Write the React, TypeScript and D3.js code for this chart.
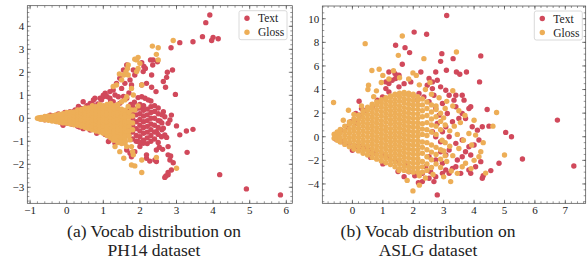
import React from "react";
import * as d3 from "d3";

// ---------- DATA ----------
// Panel (a) PH14: Text embeddings (scattered points)
const textA: [number, number][] = [
  [3.91,4.49],[3.8,4.16],[3.71,3.55],[4.0,3.52],[3.96,3.38],[4.14,3.46],[3.45,3.33],[3.09,3.29],[2.85,3.07],
  [2.89,2.1],[2.75,2.0],[2.73,1.78],[2.64,1.6],[2.7,1.35],[2.97,1.04],
  [2.36,2.54],[2.29,2.54],[2.35,2.32],[2.48,2.46],[2.32,1.88],[2.11,2.25],[2.09,2.03],[2.05,2.42],[2.15,2.17],
  [2.44,1.16],[2.32,1.35],[2.18,1.52],[2.05,1.45],[2.05,0.94],[2.14,0.87],[2.23,0.8],
  [2.64,0.29],[2.68,0.07],[2.82,-0.07],[2.86,0.14],[2.77,-0.22],[3.0,-0.33],[3.09,-0.72],[3.27,-0.55],[3.45,-0.48],[3.29,-1.48],
  [2.64,-0.43],[2.68,-0.72],[2.73,-0.83],[2.59,-0.8],[2.77,-1.23],[2.77,-1.59],[2.84,-1.64],[2.82,-1.81],[2.91,-1.93],
  [2.86,-2.25],[2.77,-2.36],[2.71,-2.51],[2.77,-2.46],[2.68,-2.57],
  [2.45,-1.88],[2.41,-1.81],[2.27,-1.86],[2.18,-1.74],[2.45,-1.38],[2.53,-1.26],[2.62,-1.35],
  [4.18,-2.45],[4.91,-3.07],[5.84,-3.33],[2.55,-0.12],[2.45,-0.58],
  [1.64,2.32],[1.55,2.1],[1.45,1.74],[1.36,1.52],[1.27,1.23],[1.18,1.16],[1.05,1.09],[1.0,0.94],[0.91,0.87],[0.77,0.87],
  [0.73,0.8],[0.64,0.65],[0.45,0.72],[0.39,0.43],[0.32,0.51],[0.23,0.36],[0.09,0.29],
  [1.73,1.67],[1.77,1.45],[1.86,1.88],[1.91,2.07],[1.82,2.1],[1.59,1.52],[1.5,1.3],[1.32,1.01],[1.41,0.94],[1.64,0.87],
  [1.45,0.65],[1.18,0.87],[1.27,0.72],[1.0,1.0],[0.95,0.8],[1.1,0.95],[1.2,0.75],[1.55,0.95],[1.7,1.1],[1.85,0.7],
  [1.95,0.9],[1.75,0.6],[0.55,0.55],[0.7,0.6],[0.85,0.62],
  [1.0,-0.43],[0.91,-0.36],[0.82,-0.65],[0.73,-0.43],[0.64,-0.51],[0.55,-0.36],[1.14,-1.01],[1.18,-0.94],[1.32,-1.09],
  [1.64,-1.38],[1.73,-1.52],[1.77,-1.67],[1.86,-1.45],[2.0,-1.23],[2.09,-1.09],[1.95,-1.01],[2.18,-1.59],
  [0.45,-0.45],[0.3,-0.35],[1.05,-0.7],[1.25,-0.8],
  [-0.45,0.14],[-0.36,0.1],[-0.27,-0.14],[-0.14,-0.19],[0,-0.22],[0.14,-0.25],[0.27,-0.14],[0.41,-0.29],[0.18,0.22],
  [-0.05,0.25],[-0.23,0.19],[-0.55,0.07],[-0.73,-0.01],[-0.6,-0.06],[-0.1,-0.3],[0.2,0.3],[0.35,-0.38],
];
// Panel (a) Text: dense cluster, one column per x value
const textACluster: [number, number[]][] = [
  [1.7,[-0.7,-0.35,0.1,0.4]],
  [1.8,[-0.9,-0.6,-0.3,0,0.3,0.5]],
  [1.9,[-1.0,-0.75,-0.45,-0.15,0.15,0.4]],
  [2.0,[-1.05,-0.8,-0.55,-0.3,-0.05,0.2,0.45,0.6]],
  [2.1,[-0.95,-0.65,-0.4,-0.15,0.1,0.35,0.55]],
  [2.2,[-1.1,-0.85,-0.6,-0.35,-0.1,0.15,0.4]],
  [2.3,[-1.0,-0.75,-0.5,-0.25,0,0.25,0.5,0.75]],
  [2.4,[-0.9,-0.6,-0.3,0,0.3,0.55]],
  [2.5,[-1.05,-0.7,-0.4,-0.1,0.2,0.45]],
  [2.6,[-0.5,-0.2,0.15]],
];
// Panel (a) Gloss
const glossA: [number, number][] = [
  [2.34,3.14],[2.5,3.07],[2.91,3.38],[2.45,2.78],[2.5,2.54],
  [1.95,2.65],[1.91,2.54],[1.86,2.57],[2.0,2.39],[1.95,2.17],[1.91,2.03],[1.68,2.32],[1.66,2.17],[1.62,2.03],[1.56,1.88],
  [1.68,1.88],[1.44,1.93],[1.5,1.67],[1.36,1.45],[1.27,1.38],[2.05,1.45],[1.77,1.3],[1.82,1.01],[1.64,0.94],[1.59,0.8],
  [1.5,0.72],[1.68,0.51],[1.77,0.36],[1.86,0.36],[1.95,0.54],
  [1.64,-0.72],[1.73,-0.94],[1.59,-1.09],[1.64,-1.23],[1.77,-1.23],[1.8,-1.45],[1.82,-1.59],[1.77,-2.03],[1.86,-2.07],
  [2.05,-1.81],[2.05,-2.36],[2.45,-1.7],[3.0,-2.17],[1.56,-1.74],[1.45,-1.45],[1.32,-1.23],[1.41,-1.01],[1.27,-0.94],
];
const glossACore: [number, number[]][] = [
  [-0.8,[0]],
  [-0.75,[-0.02,0.03]],
  [-0.7,[-0.04,0.04]],
  [-0.6,[-0.06,0.02,0.08]],
  [-0.5,[-0.09,0,0.1]],
  [-0.4,[-0.12,-0.02,0.1]],
  [-0.3,[-0.14,-0.03,0.08,0.15]],
  [-0.2,[-0.17,-0.05,0.07,0.18]],
  [-0.1,[-0.2,-0.07,0.06,0.2]],
  [0.0,[-0.22,-0.1,0.02,0.14,0.25]],
  [0.1,[-0.25,-0.12,0,0.12,0.26]],
  [0.2,[-0.28,-0.14,0,0.13,0.28]],
  [0.3,[-0.3,-0.16,-0.02,0.12,0.27,0.36]],
  [0.4,[-0.35,-0.2,-0.05,0.1,0.25,0.38]],
  [0.5,[-0.4,-0.25,-0.1,0.05,0.2,0.35,0.45]],
  [0.6,[-0.45,-0.3,-0.15,0,0.15,0.3,0.45]],
  [0.7,[-0.5,-0.35,-0.2,-0.05,0.1,0.25,0.4,0.55]],
  [0.8,[-0.55,-0.4,-0.25,-0.1,0.05,0.2,0.35,0.5]],
  [0.9,[-0.6,-0.45,-0.3,-0.15,0,0.15,0.3,0.45,0.6]],
  [1.0,[-0.65,-0.5,-0.35,-0.2,-0.05,0.1,0.25,0.4,0.55]],
  [1.1,[-0.75,-0.6,-0.45,-0.3,-0.15,0,0.15,0.3,0.45,0.6]],
  [1.2,[-0.85,-0.7,-0.55,-0.4,-0.25,-0.1,0.05,0.2,0.35,0.5,0.65]],
  [1.3,[-0.95,-0.8,-0.65,-0.5,-0.35,-0.2,-0.05,0.1,0.25,0.4,0.55]],
  [1.4,[-1.05,-0.9,-0.75,-0.6,-0.45,-0.3,-0.15,0,0.15,0.3,0.45,0.6]],
  [1.5,[-1.1,-0.95,-0.8,-0.65,-0.5,-0.35,-0.2,-0.05,0.1,0.25,0.4]],
  [1.6,[-1.0,-0.85,-0.7,-0.55,-0.4,-0.25,-0.1,0.05,0.2,0.35]],
  [1.7,[-0.75,-0.55,-0.35,-0.15,0.05,0.25]],
  [1.8,[-0.5,-0.2,0.1]],
];

// Panel (b) ASLG: Text
const textB: [number, number][] = [
  [3.1,10.28],[2.03,8.87],[2.44,8.68],[1.42,7.75],[1.73,7.55],[1.88,7.13],[2.94,7.04],[2.9,6.39],[3.31,6.62],[4.22,6.85],
  [1.64,6.14],[3.09,5.63],[2.74,5.49],[3.42,5.49],[3.75,5.49],[3.53,5.3],[4.18,4.65],[4.43,2.31],[6.74,1.41],[5.04,0.37],
  [5.23,0],[5.59,-1.89],[7.28,-2.48],[4.82,-2.25],[4.55,-2.87],[4.3,-3.3],[4.27,-3.52],[2.79,-4.93],[2.17,-3.89],
  [0.22,3.01],[0.11,1.97],[-0.05,1.27],[0.27,-0.85],
  [1.2,5.49],[1.4,5.35],[1.31,4.79],[1.1,4.08],[1.2,3.8],[1.53,4.23],[1.7,4.5],[1.92,4.65],[2.25,5.49],[2.52,4.93],
  [2.63,4.65],[2.79,4.79],[2.46,4.37],[2.63,4.08],[2.9,4.23],[3.07,3.94],[3.18,3.52],[3.34,3.1],[3.4,3.52],[3.61,3.52],
  [3.67,3.1],[3.83,2.39],[3.89,2.54],[3.61,1.97],[3.5,1.55],[3.72,1.55],[3.94,0.85],[4.11,0.56],[4.27,0.85],[4.49,0.9],
  [4.16,-0.28],[4.0,-0.7],[3.83,-0.85],[3.61,-0.28],[3.4,-0.56],[3.18,0],[2.96,0.42],[3.07,0.85],[3.29,1.27],[2.85,1.83],
  [2.74,2.39],[2.96,2.82],[2.52,2.96],[2.35,3.38],[2.19,3.66],[2.14,3.1],[2.68,3.52],[3.4,2.54],[3.12,1.97],[2.79,1.13],
  [2.63,0.42],[2.74,0],[2.9,-0.42],
  [2.52,-1.69],[2.74,-1.97],[2.96,-2.25],[3.07,-2.82],[3.18,-3.1],[3.29,-2.68],[3.45,-1.97],[3.61,-1.69],[3.72,-1.27],
  [3.89,-1.55],[3.83,-2.82],[3.89,-3.1],[4.05,-2.54],[4.22,-2.11],[2.96,-3.1],[2.74,-3.38],[2.52,-3.52],[2.3,-3.1],
  [2.08,-3.1],[1.86,-2.96],[1.7,-3.38],[2.41,-2.54],[2.57,-2.96],[2.3,-3.8],[2.68,-3.8],[1.75,-2.25],[1.42,-2.11],
  [1.2,-1.69],[0.99,-1.55],[0.77,-1.41],[0.55,-1.13],[0.38,-0.99],[0.16,-0.85],[-0.11,-0.56],[-0.33,-0.42],[3.4,-2.54],
  [3.56,-3.1],[3.18,-1.13],[3.07,-1.55],[2.9,-1.27],
  [0.22,1.83],[0.44,2.25],[0.66,2.54],[0.82,3.1],[0.99,3.38],[1.1,4.65],[1.2,4.51],[1.42,4.93],[1.53,5.21],[0.11,1.13],
  [-0.16,0.85],[-0.38,0.56],[-0.55,-0.2],[0.0,-1.15],[0.6,-1.75],[1.0,-2.3],[1.5,-2.95],[2.05,-3.3],[0.3,2.4],
];
// Panel (b) Gloss
const glossB: [number, number][] = [
  [1.64,8.54],[0.42,7.89],[1.51,6.9],[3.42,7.18],[2.35,6.62],[0.64,5.61],[0.88,5.72],[1.99,5.41],[-0.62,2.9],[-0.13,2.25],
  [0.53,4.37],[0.51,4.0],[0.79,3.89],[4.74,2.06],[4.62,0.9],[5.0,-1.55],[1.99,-4.59],[1.53,-2.87],[3.23,-3.8],[4.38,-3.08],
  [3.83,0.28],[3.92,-0.7],[4.05,0.14],[4.22,-1.27],[4.16,-1.69],[3.72,-2.25],[3.61,-2.54],[3.45,-3.1],
  [1.0,5.2],[1.2,4.9],[0.95,4.6],[1.35,5.6],[1.85,4.9],[2.2,4.4],[2.4,4.0],[2.6,3.6],[2.85,3.3],[3.1,3.0],[3.3,2.6],
  [3.5,2.2],[3.7,1.8],[3.55,1.2],[3.35,0.9],[3.2,0.5],[3.45,0.2],[3.65,-0.3],[3.5,-1.0],[3.3,-1.6],[3.1,-2.1],[2.9,-2.6],
  [2.65,-3.2],[2.4,-3.5],[2.2,-3.3],[3.0,-3.4],[3.25,-2.9],[3.0,-1.2],[3.2,-0.8],[2.95,-0.3],[3.0,1.6],[2.75,2.6],
  [3.3,3.9],[2.55,4.6],[2.1,5.2],[1.55,5.0],[0.7,3.4],[0.3,2.6],[0.05,1.9],[-0.3,1.4],[4.0,1.4],[4.3,-0.5],[4.0,-2.0],
  [3.9,-2.7],[2.2,-4.1],[1.8,-3.7],
];
const glossBCore: [number, number[]][] = [
  [-0.6,[-0.12,0.22]],
  [-0.5,[-0.3,0.05,0.4]],
  [-0.4,[-0.45,-0.08,0.3,0.62]],
  [-0.25,[-0.65,-0.27,0.11,0.49,0.9]],
  [-0.1,[-0.85,-0.47,-0.09,0.29,0.67,1.05,1.25]],
  [0.05,[-1.05,-0.67,-0.29,0.09,0.47,0.85,1.23,1.52]],
  [0.2,[-1.2,-0.82,-0.44,-0.06,0.32,0.7,1.08,1.46,1.82]],
  [0.35,[-1.4,-1.02,-0.64,-0.26,0.12,0.5,0.88,1.26,1.64,2.02,2.2]],
  [0.5,[-1.55,-1.17,-0.79,-0.41,-0.03,0.35,0.73,1.11,1.49,1.87,2.25,2.5]],
  [0.65,[-1.75,-1.37,-0.99,-0.61,-0.23,0.15,0.53,0.91,1.29,1.67,2.05,2.43,2.75]],
  [0.8,[-1.9,-1.52,-1.14,-0.76,-0.38,0,0.38,0.76,1.14,1.52,1.9,2.28,2.66,2.95]],
  [0.95,[-2.05,-1.67,-1.29,-0.91,-0.53,-0.15,0.23,0.61,0.99,1.37,1.75,2.13,2.51,2.89,3.15]],
  [1.1,[-2.2,-1.82,-1.44,-1.06,-0.68,-0.3,0.08,0.46,0.84,1.22,1.6,1.98,2.36,2.74,3.12,3.3]],
  [1.25,[-2.35,-1.97,-1.59,-1.21,-0.83,-0.45,-0.07,0.31,0.69,1.07,1.45,1.83,2.21,2.59,2.97,3.35,3.45]],
  [1.4,[-2.55,-2.17,-1.79,-1.41,-1.03,-0.65,-0.27,0.11,0.49,0.87,1.25,1.63,2.01,2.39,2.77,3.15,3.53,3.6]],
  [1.55,[-2.7,-2.32,-1.94,-1.56,-1.18,-0.8,-0.42,-0.04,0.34,0.72,1.1,1.48,1.86,2.24,2.62,3.0,3.38,3.7]],
  [1.7,[-2.85,-2.47,-2.09,-1.71,-1.33,-0.95,-0.57,-0.19,0.19,0.57,0.95,1.33,1.71,2.09,2.47,2.85,3.23,3.61,3.75]],
  [1.85,[-2.95,-2.57,-2.19,-1.81,-1.43,-1.05,-0.67,-0.29,0.09,0.47,0.85,1.23,1.61,1.99,2.37,2.75,3.13,3.51,3.7]],
  [2.0,[-3.0,-2.62,-2.24,-1.86,-1.48,-1.1,-0.72,-0.34,0.04,0.42,0.8,1.18,1.56,1.94,2.32,2.7,3.08,3.46,3.6]],
  [2.15,[-3.0,-2.62,-2.24,-1.86,-1.48,-1.1,-0.72,-0.34,0.04,0.42,0.8,1.18,1.56,1.94,2.32,2.7,3.08,3.4]],
  [2.3,[-3.0,-2.55,-2.1,-1.4,-0.9,-0.45,0.2,0.65,1.1,1.7,2.2,2.7,3.2]],
  [2.45,[-2.85,-2.3,-1.7,-1.1,-0.5,0.1,0.6,1.2,1.8,2.4,2.95]],
  [2.6,[-2.6,-1.95,-1.3,-0.7,0.4,1.0,1.5,2.1,2.7]],
  [2.75,[-2.3,-1.5,-0.9,0.2,0.9,1.7,2.3]],
  [2.9,[-1.9,-1.1,0.6,1.3,2.0]],
  [3.05,[-1.6,-0.5,1.0,2.4]],
];

const xTicksA = [-1, 0, 1, 2, 3, 4, 5, 6];
const yTicksA = [-3, -2, -1, 0, 1, 2, 3, 4];
const xTicksB = [0, 1, 2, 3, 4, 5, 6, 7];
const yTicksB = [-4, -2, 0, 2, 4, 6, 8, 10];
const seriesNames = ["Text", "Gloss"];
const captionA = ["(a) Vocab distribution on", "PH14 dataset"];
const captionB = ["(b) Vocab distribution on", "ASLG dataset"];

// ---------- STYLE / LAYOUT ----------
const COLORS = ["#d1495b", "#edae57"];
const SERIF = "'Liberation Serif', 'Times New Roman', serif";
const R = 2.7;

const flatten = (cols: [number, number[]][]) =>
  cols.flatMap(([x, ys]) => ys.map((y) => [x, y] as [number, number]));

type PanelCfg = {
  left: number; right: number; top: number; bottom: number;
  xDomain: [number, number]; yDomain: [number, number];
  xTicks: number[]; yTicks: number[]; xMinor: number; yMinor: number;
  text: [number, number][]; gloss: [number, number][];
  legendX: number; caption: string[]; captionX: number;
};

const fmt = (v: number) => (v < 0 ? "\u2212" + Math.abs(v) : String(v));

function Panel({ c }: { c: PanelCfg }) {
  const x = d3.scaleLinear().domain(c.xDomain).range([c.left, c.right]);
  const y = d3.scaleLinear().domain(c.yDomain).range([c.bottom, c.top]);
  const eps = 1e-9;
  const xMinorTicks = d3
    .range(Math.ceil(c.xDomain[0] / c.xMinor) * c.xMinor, c.xDomain[1] + eps, c.xMinor)
    .filter((v) => v >= c.xDomain[0] && v <= c.xDomain[1]);
  const yMinorTicks = d3
    .range(Math.ceil(c.yDomain[0] / c.yMinor) * c.yMinor, c.yDomain[1] + eps, c.yMinor)
    .filter((v) => v >= c.yDomain[0] && v <= c.yDomain[1]);
  const maj = 3.5, mnr = 2;
  const tickColor = "#333";
  return (
    <g>
      <clipPath id={`clip${Math.round(c.left)}`}>
        <rect x={c.left} y={c.top} width={c.right - c.left} height={c.bottom - c.top} />
      </clipPath>
      <g clipPath={`url(#clip${Math.round(c.left)})`}>
        {c.text.map(([a, b], i) => (
          <circle key={"t" + i} cx={x(a)} cy={y(b)} r={R} fill={COLORS[0]} />
        ))}
        {c.gloss.map(([a, b], i) => (
          <circle key={"g" + i} cx={x(a)} cy={y(b)} r={R} fill={COLORS[1]} />
        ))}
      </g>
      {xMinorTicks.map((v, i) => (
        <g key={"xm" + i} stroke={tickColor} strokeWidth={0.5}>
          <line x1={x(v)} x2={x(v)} y1={c.bottom} y2={c.bottom - mnr} />
          <line x1={x(v)} x2={x(v)} y1={c.top} y2={c.top + mnr} />
        </g>
      ))}
      {yMinorTicks.map((v, i) => (
        <g key={"ym" + i} stroke={tickColor} strokeWidth={0.5}>
          <line x1={c.left} x2={c.left + mnr} y1={y(v)} y2={y(v)} />
          <line x1={c.right} x2={c.right - mnr} y1={y(v)} y2={y(v)} />
        </g>
      ))}
      {c.xTicks.map((v) => (
        <g key={"xt" + v}>
          <line x1={x(v)} x2={x(v)} y1={c.bottom} y2={c.bottom - maj} stroke={tickColor} strokeWidth={0.6} />
          <line x1={x(v)} x2={x(v)} y1={c.top} y2={c.top + maj} stroke={tickColor} strokeWidth={0.6} />
          <text x={x(v)} y={c.bottom + 11} textAnchor="middle" fontSize={11} fontFamily={SERIF} fill="#222">
            {fmt(v)}
          </text>
        </g>
      ))}
      {c.yTicks.map((v) => (
        <g key={"yt" + v}>
          <line x1={c.left} x2={c.left + maj} y1={y(v)} y2={y(v)} stroke={tickColor} strokeWidth={0.6} />
          <line x1={c.right} x2={c.right - maj} y1={y(v)} y2={y(v)} stroke={tickColor} strokeWidth={0.6} />
          <text x={c.left - 3} y={y(v)} dy="0.35em" textAnchor="end" fontSize={11} fontFamily={SERIF} fill="#222">
            {fmt(v)}
          </text>
        </g>
      ))}
      <rect x={c.left} y={c.top} width={c.right - c.left} height={c.bottom - c.top} fill="none" stroke="#444" strokeWidth={0.7} />
      <g transform={`translate(${c.legendX},${c.top + 5})`}>
        <rect x={0} y={0} width={48} height={29} rx={2} fill="white" fillOpacity={0.8} stroke="#d0d0d0" strokeWidth={0.8} />
        {seriesNames.map((n, i) => (
          <g key={n} transform={`translate(0,${7.5 + i * 14})`}>
            <circle cx={8} cy={0} r={R} fill={COLORS[i]} />
            <text x={19} y={0} dy="0.35em" fontSize={11.5} fontFamily={SERIF} fill="#222">{n}</text>
          </g>
        ))}
      </g>
      {c.caption.map((s, i) => (
        <text key={s} x={c.captionX} y={237 + i * 19} textAnchor="middle" fontSize={17.5} fontFamily={SERIF} fill="#222">
          {s}
        </text>
      ))}
    </g>
  );
}

export default function App() {
  const panels: PanelCfg[] = [
    {
      left: 27.3, right: 292.3, top: 5.7, bottom: 203.3,
      xDomain: [-1.077, 6.164], yDomain: [-3.696, 4.896],
      xTicks: xTicksA, yTicks: yTicksA, xMinor: 0.2, yMinor: 0.2,
      text: [...textA, ...flatten(textACluster)], gloss: [...glossA, ...flatten(glossACore)],
      legendX: 239, caption: captionA, captionX: 154,
    },
    {
      left: 322.3, right: 585.7, top: 6, bottom: 203.3,
      xDomain: [-0.99, 7.67], yDomain: [-5.64, 11.08],
      xTicks: xTicksB, yTicks: yTicksB, xMinor: 0.2, yMinor: 0.5,
      text: textB, gloss: [...glossB, ...flatten(glossBCore)],
      legendX: 534.3, caption: captionB, captionX: 428,
    },
  ];
  return (
    <svg width={587} height={260} style={{ position: "absolute", left: 0, top: 0, background: "white" }}>
      <rect width={587} height={260} fill="white" />
      {panels.map((p, i) => (
        <Panel key={i} c={p} />
      ))}
    </svg>
  );
}
